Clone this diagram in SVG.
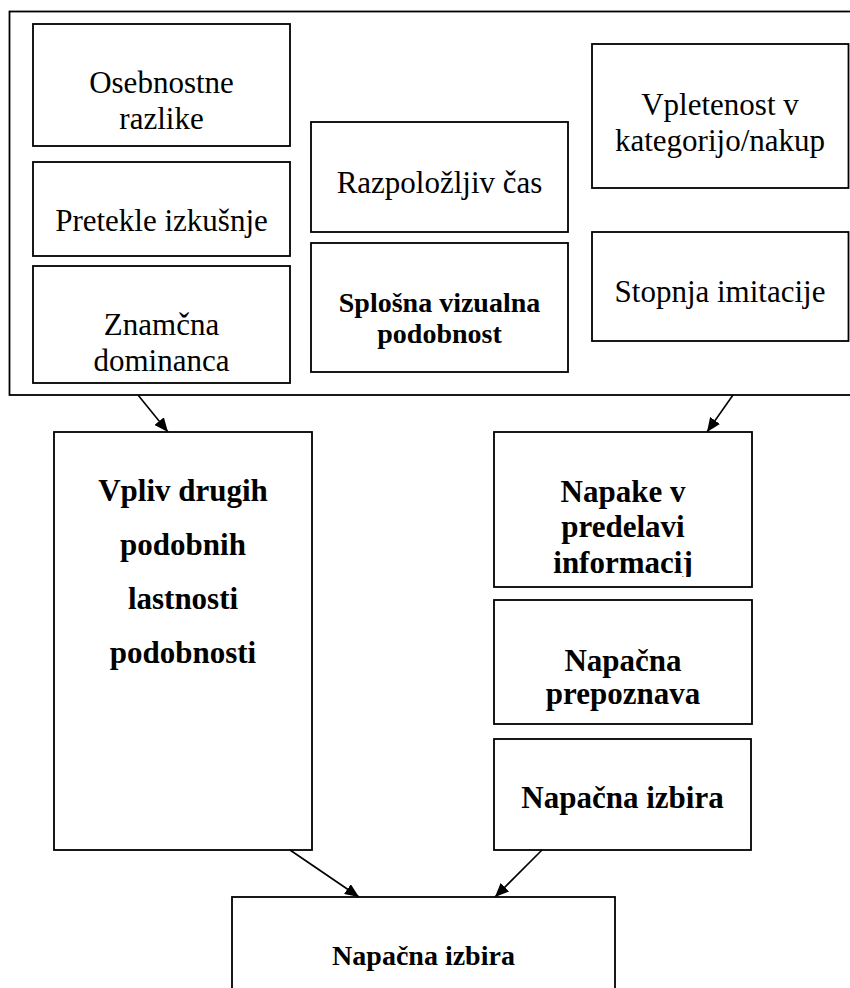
<svg xmlns="http://www.w3.org/2000/svg" width="850" height="988" viewBox="0 0 850 988">
<style>
.box{fill:#fff;stroke:#000;stroke-width:1.8}
.t{font-family:"Liberation Serif","Times New Roman",serif;font-size:31px;fill:#000;text-anchor:middle}
.b{font-weight:bold}
.s{font-size:28px}
.c{stroke:#000;stroke-width:1.6;fill:none}
</style>
<defs>
<marker id="ah" markerUnits="userSpaceOnUse" markerWidth="15" markerHeight="12" refX="14" refY="6" orient="auto">
<path d="M0,0 L14,6 L0,12 z" fill="#000"/>
</marker>
<clipPath id="clipNapake"><rect x="494" y="432" width="258" height="145"/></clipPath>
</defs>
<rect width="850" height="988" fill="#fff"/>
<g id="outer"><rect class="box" x="9.5" y="11.5" width="860" height="383.5"/></g>
<g id="n-osebnostne"><rect class="box" x="33" y="24" width="257" height="122"/>
<text class="t" x="161.5" y="93">Osebnostne</text><text class="t" x="161.5" y="129">razlike</text></g>
<g id="n-pretekle"><rect class="box" x="33" y="162" width="257" height="94"/>
<text class="t" x="161.5" y="231">Pretekle izkušnje</text></g>
<g id="n-znamcna"><rect class="box" x="33" y="266" width="257" height="117"/>
<text class="t" x="161.5" y="335">Znamčna</text><text class="t" x="161.5" y="371">dominanca</text></g>
<g id="n-cas"><rect class="box" x="311" y="122" width="257" height="110"/>
<text class="t" x="439.5" y="193">Razpoložljiv čas</text></g>
<g id="n-splosna"><rect class="box" x="311" y="243" width="257" height="129"/>
<text class="t b s" x="439.5" y="312">Splošna vizualna</text><text class="t b s" x="439.5" y="343">podobnost</text></g>
<g id="n-vpletenost"><rect class="box" x="592" y="44" width="256.5" height="144"/>
<text class="t" x="720" y="115">Vpletenost v</text><text class="t" x="720" y="151">kategorijo/nakup</text></g>
<g id="n-stopnja"><rect class="box" x="592" y="232" width="256.5" height="109"/>
<text class="t" x="720" y="302">Stopnja imitacije</text></g>
<g id="n-vpliv"><rect class="box" x="54" y="432" width="258" height="418"/>
<text class="t b" x="183" y="501">Vpliv drugih</text><text class="t b" x="183" y="555">podobnih</text><text class="t b" x="183" y="609">lastnosti</text><text class="t b" x="183" y="663">podobnosti</text></g>
<g id="n-napake"><rect class="box" x="494" y="432" width="258" height="155"/>
<g clip-path="url(#clipNapake)"><text class="t b" x="623" y="502">Napake v</text><text class="t b" x="623" y="537">predelavi</text><text class="t b" x="623" y="573">informacij</text></g></g>
<g id="n-prepoznava"><rect class="box" x="494" y="600" width="258" height="124"/>
<text class="t b" x="623" y="671">Napačna</text><text class="t b" x="623" y="704">prepoznava</text></g>
<g id="n-izbira1"><rect class="box" x="494" y="739" width="257" height="111"/>
<text class="t b" x="622.5" y="808">Napačna izbira</text></g>
<g id="n-izbira2"><rect class="box" x="232" y="897" width="383" height="110"/>
<text class="t b s" x="423.5" y="965">Napačna izbira</text></g>
<g id="connectors">
<line class="c" x1="138" y1="395" x2="168" y2="432" marker-end="url(#ah)"/>
<line class="c" x1="733" y1="395" x2="707" y2="432" marker-end="url(#ah)"/>
<line class="c" x1="290" y1="850" x2="359" y2="897" marker-end="url(#ah)"/>
<line class="c" x1="542" y1="850" x2="495" y2="897" marker-end="url(#ah)"/>
</g>
</svg>
